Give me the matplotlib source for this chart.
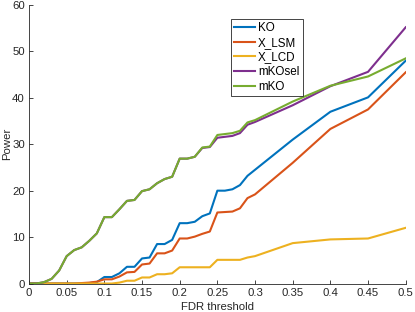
import matplotlib
matplotlib.use('Agg')
import matplotlib.pyplot as plt

# FDR thresholds (x) and power of each method
fdr = [0.00, 0.01, 0.02, 0.03, 0.04, 0.05, 0.06, 0.07, 0.08, 0.09,
       0.10, 0.11, 0.12, 0.13, 0.14, 0.15, 0.16, 0.17, 0.18, 0.19,
       0.20, 0.21, 0.22, 0.23, 0.24, 0.25, 0.26, 0.27, 0.28, 0.29,
       0.30, 0.35, 0.40, 0.45, 0.50]

ko = [0, 0, 0, 0, 0, 0, 0, 0, 0.1, 0.3,
      1.4, 1.4, 2.2, 3.6, 3.6, 5.4, 5.6, 8.5, 8.5, 9.4,
      13.0, 13.0, 13.3, 14.5, 15.1, 20.0, 20.0, 20.3, 21.2, 23.2,
      24.5, 31.0, 37.0, 40.1, 48.0]

x_lsm = [0, 0, 0, 0, 0, 0, 0, 0.1, 0.2, 0.4,
         0.9, 0.9, 1.5, 2.4, 2.5, 4.1, 4.3, 6.5, 6.5, 7.1,
         9.7, 9.7, 10.1, 10.7, 11.2, 15.3, 15.4, 15.5, 16.2, 18.4,
         19.2, 26.0, 33.3, 37.5, 45.5]

x_lcd = [0, 0, 0, 0, 0, 0, 0, 0, 0, 0,
         0, 0, 0.2, 0.6, 0.6, 1.3, 1.3, 2.0, 2.0, 2.2,
         3.5, 3.5, 3.5, 3.5, 3.5, 5.1, 5.1, 5.1, 5.1, 5.6,
         5.9, 8.7, 9.5, 9.7, 12.0]

mkosel = [0, 0, 0.3, 1.0, 2.8, 5.9, 7.2, 7.8, 9.2, 10.8,
          14.3, 14.3, 16.0, 17.8, 18.0, 19.9, 20.3, 21.6, 22.5, 23.0,
          26.9, 26.9, 27.3, 29.2, 29.4, 31.4, 31.6, 31.8, 32.4, 34.2,
          34.8, 38.4, 42.5, 45.6, 55.2]

mko = [0, 0, 0.3, 1.0, 2.8, 5.9, 7.2, 7.8, 9.2, 10.8,
       14.3, 14.3, 16.0, 17.8, 18.0, 19.9, 20.3, 21.6, 22.5, 23.0,
       26.9, 26.9, 27.3, 29.3, 29.5, 32.0, 32.2, 32.4, 32.9, 34.7,
       35.2, 39.2, 42.6, 44.6, 48.5]

x_ticks = [0, 0.05, 0.1, 0.15, 0.2, 0.25, 0.3, 0.35, 0.4, 0.45, 0.5]
x_tick_labels = ['0', '0.05', '0.1', '0.15', '0.2', '0.25', '0.3', '0.35', '0.4', '0.45', '0.5']
y_ticks = [0, 10, 20, 30, 40, 50, 60]

plt.rcParams['font.family'] = ['Liberation Sans', 'DejaVu Sans']
fs = 8.2
leg_fs = 8.4
axis_col = '#262626'

fig = plt.figure(figsize=(4.15, 3.12), dpi=100, facecolor='white')
ax = fig.add_axes([0.0699, 0.0913, 0.9077, 0.8927])

# MATLAB default colour order
ax.plot(fdr, ko, color='#0072BD', lw=1.5, label='KO')
ax.plot(fdr, x_lsm, color='#D95319', lw=1.5, label='X_LSM')
ax.plot(fdr, x_lcd, color='#EDB120', lw=1.5, label='X_LCD')
ax.plot(fdr, mkosel, color='#7E2F8E', lw=1.5, label='mKOsel')
ax.plot(fdr, mko, color='#77AC30', lw=1.5, label='mKO')

ax.set_xlim(0, 0.5)
ax.set_ylim(0, 60)
ax.set_xticks(x_ticks)
ax.set_xticklabels(x_tick_labels)
ax.set_yticks(y_ticks)

for side in ['top', 'right']:
	ax.spines[side].set_visible(False)
for side in ['left', 'bottom']:
	ax.spines[side].set_color(axis_col)
	ax.spines[side].set_linewidth(0.6)

ax.tick_params(direction='in', length=3, width=0.6, color=axis_col,
               labelcolor=axis_col, labelsize=fs, pad=3)

ax.set_xlabel('FDR threshold', fontsize=fs, color=axis_col, labelpad=3)
ax.set_ylabel('Power', fontsize=fs, color=axis_col)
ax.yaxis.set_label_coords(-0.045, 0.5)

leg = ax.legend(loc='upper left', bbox_to_anchor=(0.535, 0.95), fontsize=leg_fs,
                fancybox=False, framealpha=1, edgecolor='#262626',
                handlelength=1.8, handletextpad=0.25, borderpad=0.3,
                labelspacing=0.22, borderaxespad=0)
leg.get_frame().set_linewidth(0.6)

plt.savefig('out.png', dpi=100)
